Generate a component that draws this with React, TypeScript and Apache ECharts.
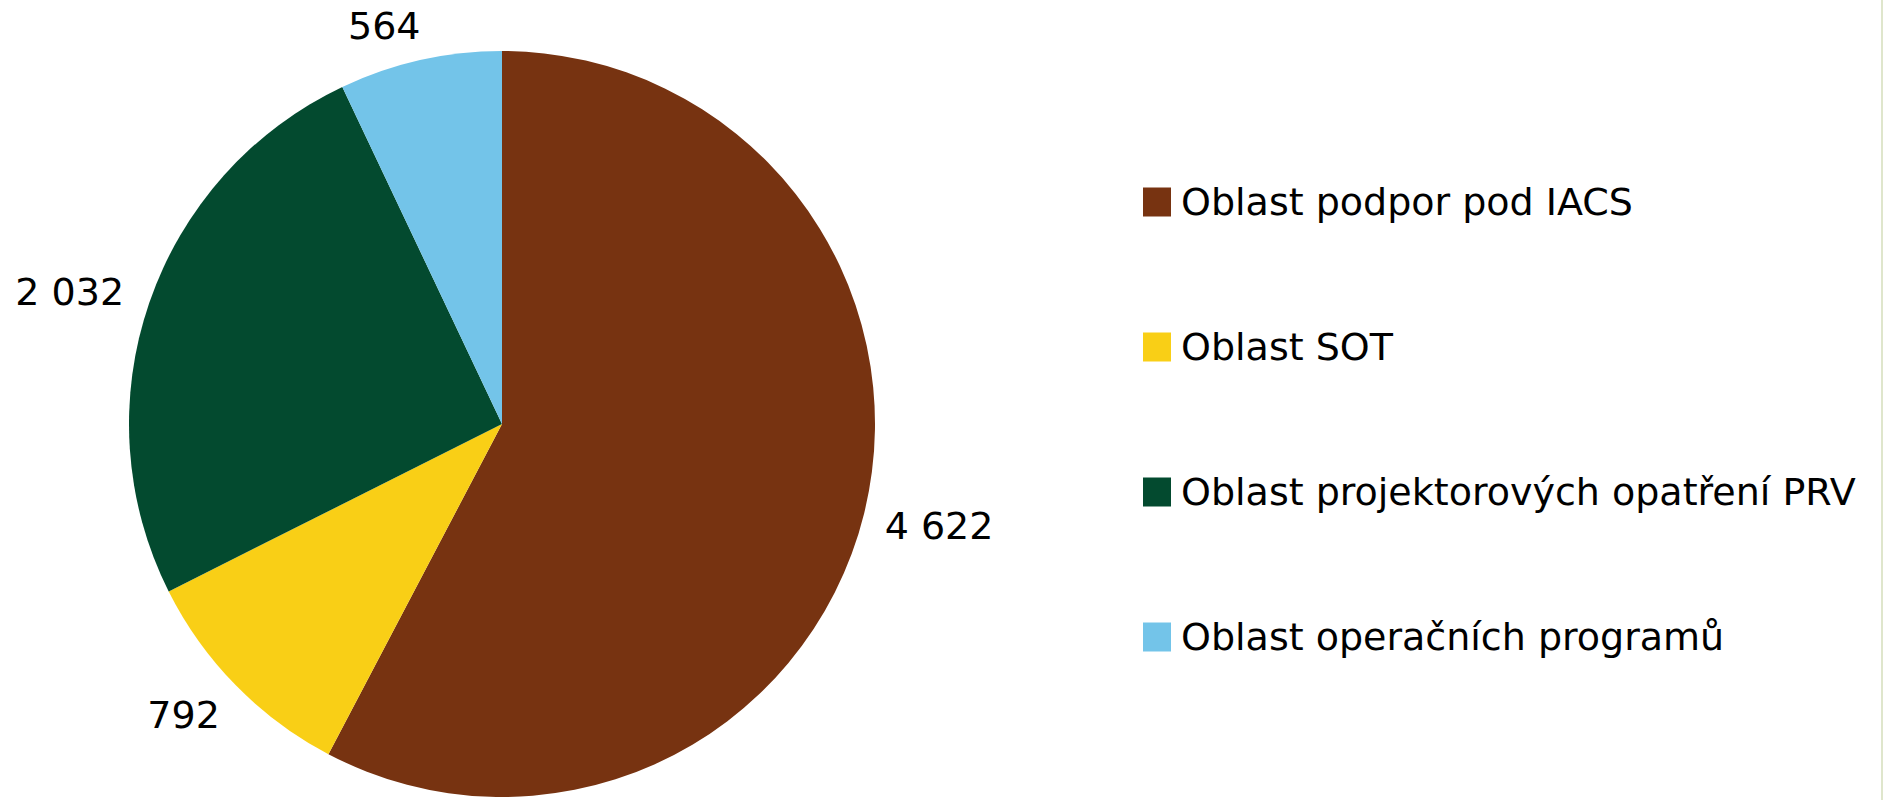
import React, { useEffect, useRef } from "react";
import * as echarts from "echarts";

const categories = [
  "Oblast podpor pod IACS",
  "Oblast SOT",
  "Oblast projektorových opatření PRV",
  "Oblast operačních programů",
];
const values = [4622, 792, 2032, 564];
const colors = ["#773311", "#f9cf16", "#034a2f", "#73c4e9"];
const labelLengths = [51, 42, 34, 35];
const labelLengths2 = [-34, -19, -12, -13];

const formatValue = (v: number) =>
  String(v).replace(/\B(?=(\d{3})+(?!\d))/g, " ");

export default function App() {
  const ref = useRef<HTMLDivElement>(null);
  useEffect(() => {
    if (!ref.current) return;
    const chart = echarts.init(ref.current, null, { renderer: "svg" });
    const font = "'DejaVu Sans', Verdana, sans-serif";
    chart.setOption({
      animation: false,
      backgroundColor: "#ffffff",
      color: colors,
      legend: {
        orient: "vertical",
        left: 1143,
        top: 182,
        padding: 0,
        itemWidth: 28,
        itemHeight: 29,
        itemGap: 105,
        icon: "rect",
        data: categories,
        textStyle: {
          fontFamily: font,
          fontSize: 38,
          lineHeight: 40,
          color: "#000",
          padding: [0, 0, 0, 5],
        },
        selectedMode: false,
      },
      graphic: [
        {
          type: "rect",
          right: 0,
          top: 0,
          shape: { width: 2, height: 800 },
          style: { fill: "#dfe6cc" },
        },
      ],
      series: [
        {
          type: "pie",
          center: [502, 424],
          radius: 373,
          startAngle: 90,
          clockwise: true,
          avoidLabelOverlap: false,
          label: {
            show: true,
            position: "outside",
            fontFamily: font,
            fontSize: 38,
            color: "#000",
            formatter: (p: any) => formatValue(p.value),
          },
          labelLine: { show: false, length: 30, length2: 0 },
          emphasis: { disabled: true },
          data: categories.map((name, i) => ({
            name,
            value: values[i],
            labelLine: {
              show: false,
              length: labelLengths[i],
              length2: labelLengths2[i],
            },
          })),
        },
      ],
    });
    return () => chart.dispose();
  }, []);
  return (
    <div
      ref={ref}
      style={{ position: "fixed", left: 0, top: 0, width: 1883, height: 800 }}
    />
  );
}
